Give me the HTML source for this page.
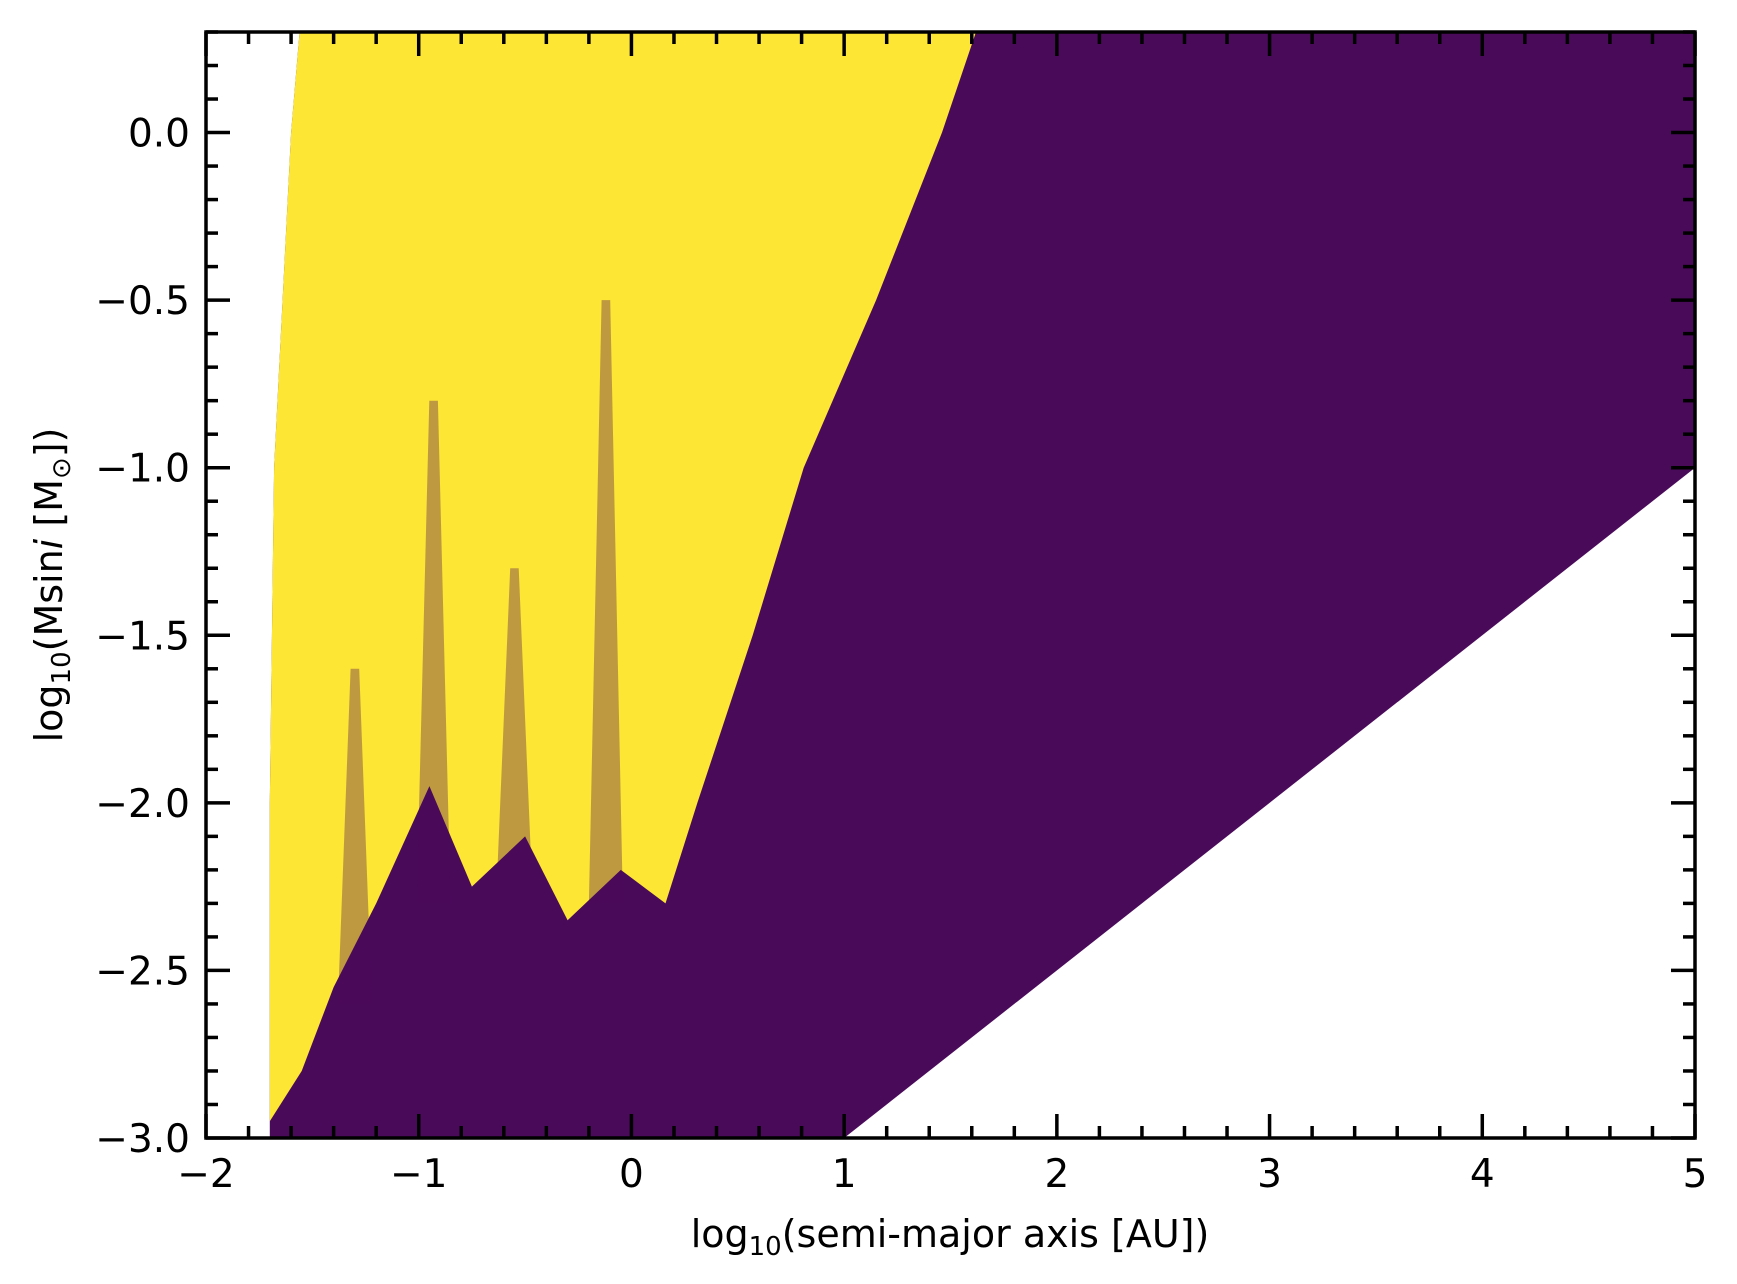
<!DOCTYPE html>
<html><head><meta charset="utf-8"><style>
body{margin:0;background:#fff}
svg{display:block;font-family:"DejaVu Sans","Liberation Sans",sans-serif}
</style></head><body>
<svg id="chart" width="1737" height="1284" viewBox="0 0 1737 1284">
<defs><clipPath id="clip"><rect x="206" y="32" width="1489" height="1106"/></clipPath></defs>
<g id="marks" clip-path="url(#clip)"></g>
<g id="axes"></g>
</svg>
<script>
// Region boundaries in data coordinates [log10 a, log10 Msini]
const purpleRegionX = [-1.7, 1.0, 5.0, 5.0, 1.0, -1.56, -1.60, -1.68, -1.7];
const purpleRegionY = [-3.0, -3.0, -1.0, 0.3, 0.3, 0.3, 0.0, -1.0, -2.0];
const yellowRegionX = [-1.56, 1.62, 1.46, 1.15, 0.81, 0.57, 0.31, 0.16, -0.05, -0.3, -0.5, -0.75, -0.95, -1.2, -1.4, -1.55, -1.7, -1.7, -1.68, -1.60];
const yellowRegionY = [0.3, 0.3, 0.0, -0.5, -1.0, -1.5, -2.0, -2.3, -2.2, -2.35, -2.1, -2.25, -1.95, -2.3, -2.55, -2.8, -2.95, -2.0, -1.0, 0.0];
const streakX = [-0.93, -0.12, -0.55, -1.3];
const streakTop = [-0.8, -0.5, -1.3, -1.6];
const streakBottom = [-2.3, -2.3, -2.2, -2.6];
const xTicks = [-2, -1, 0, 1, 2, 3, 4, 5];
const xTickLabels = ["\u22122", "\u22121", "0", "1", "2", "3", "4", "5"];
const yTicks = [-3.0, -2.5, -2.0, -1.5, -1.0, -0.5, 0.0];
const yTickLabels = ["\u22123.0", "\u22122.5", "\u22122.0", "\u22121.5", "\u22121.0", "\u22120.5", "0.0"];

const X0 = 206, X1 = 1695, Y0 = 1138, Y1 = 32;
const xMin = -2, xMax = 5, yMin = -3, yMax = 0.3;
const sx = v => X0 + (v - xMin) / (xMax - xMin) * (X1 - X0);
const sy = v => Y0 - (v - yMin) / (yMax - yMin) * (Y0 - Y1);
const NS = "http://www.w3.org/2000/svg";
const marks = document.getElementById('marks');
const axes = document.getElementById('axes');
function mk(tag, attrs, parent) {
  const e = document.createElementNS(NS, tag);
  for (const k in attrs) e.setAttribute(k, attrs[k]);
  parent.appendChild(e);
  return e;
}
function poly(xs, ys) { return xs.map((x, i) => sx(x).toFixed(1) + ',' + sy(ys[i]).toFixed(1)).join(' '); }

const pr = mk('polygon', {points: poly(purpleRegionX, purpleRegionY), fill: '#4a0a5a'}, marks);


const yr = mk('polygon', {points: poly(yellowRegionX, yellowRegionY), fill: '#fde634'}, marks);


streakX.forEach((x, i) => {
  const s = mk('polygon', {points: poly([x - 0.02, x + 0.02, x + 0.08, x - 0.08], [streakTop[i], streakTop[i], streakBottom[i], streakBottom[i]]), fill: '#4a0a5a', opacity: 0.35}, marks);
  
  
});

const fr = mk('rect', {x: X0, y: Y1, width: X1 - X0, height: Y0 - Y1, fill: 'none', stroke: '#000', 'stroke-width': 3.5}, axes);


function tick(x1, y1, x2, y2) { mk('line', {x1, y1, x2, y2, stroke: '#000', 'stroke-width': 3.5}, axes); }
for (let v = -2; v <= 5.0001; v += 0.2) {
  const major = Math.abs(v - Math.round(v)) < 1e-6;
  const L = major ? 24 : 12, x = sx(v);
  tick(x, Y0, x, Y0 - L); tick(x, Y1, x, Y1 + L);
}
for (let v = -3; v <= 0.3001; v += 0.1) {
  const major = Math.abs(v * 2 - Math.round(v * 2)) < 1e-6;
  const L = major ? 24 : 12, y = sy(v);
  tick(X0, y, X0 + L, y); tick(X1, y, X1 - L, y);
}
xTicks.forEach((v, i) => {
  const t = mk('text', {x: sx(v), y: 1187, 'font-size': 39, 'text-anchor': 'middle'}, axes);
  t.textContent = xTickLabels[i];
  
  
});
yTicks.forEach((v, i) => {
  const t = mk('text', {x: 190, y: sy(v) + 14, 'font-size': 39, 'text-anchor': 'end'}, axes);
  t.textContent = yTickLabels[i];
  
  
});
const xl = mk('text', {x: 950, y: 1247, 'font-size': 38, 'text-anchor': 'middle'}, axes);
xl.innerHTML = 'log<tspan font-size="26" dy="8">10</tspan><tspan dy="-8">(semi-major axis [AU])</tspan>';


const yl = mk('text', {x: 0, y: 0, 'font-size': 38, 'text-anchor': 'middle', transform: 'translate(62,585) rotate(-90)'}, axes);
yl.innerHTML = 'log<tspan font-size="26" dy="8">10</tspan><tspan dy="-8">(Msin</tspan><tspan font-style="italic">i</tspan> [M<tspan font-size="26" dy="8">\u2299</tspan><tspan dy="-8">])</tspan>';


</script>
</body></html>
